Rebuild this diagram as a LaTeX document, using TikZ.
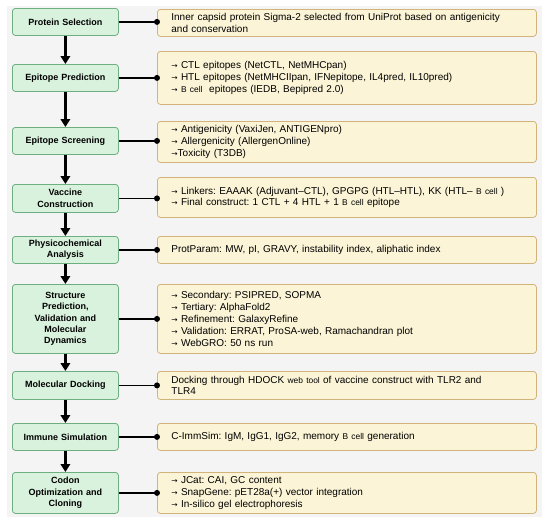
\documentclass[tikz,border=0pt]{standalone}
\usepackage{fontspec}
\setmainfont{Liberation Sans}
\newfontfamily\arrowfont{DejaVu Sans}
\usetikzlibrary{arrows.meta}
\frenchspacing
\definecolor{bggrey}{HTML}{F4F4F4}
\definecolor{stepfill}{HTML}{D9F2DD}
\definecolor{stepdraw}{HTML}{6DAF7E}
\definecolor{infofill}{HTML}{FBF4D6}
\definecolor{infodraw}{HTML}{D2B47A}
\newcommand{\smtxt}[1]{{\fontsize{8.4}{9}\selectfont #1}}
\newcommand{\rarr}{{\arrowfont\fontsize{7.5}{9}\selectfont →}}
\begin{document}
\begin{tikzpicture}[x=1pt,y=-1pt,
  stepbox/.style={draw=stepdraw, fill=stepfill, line width=0.8pt, rounded corners=3pt,
    minimum width=106pt, text width=100pt, align=center, inner xsep=3pt, inner ysep=0pt,
    font=\fontsize{9}{11.4}\selectfont\bfseries\frenchspacing, anchor=north west},
  infobox/.style={draw=infodraw, fill=infofill, line width=0.8pt, rounded corners=3pt,
    text width=351pt, inner xsep=14pt, inner ysep=0pt, align=left,
    font=\fontsize{10}{11.8}\selectfont\frenchspacing, anchor=north west},
  flow/.style={line width=2.2pt, -{Triangle[width=9.5pt,length=8pt]}},
  link/.style={line width=1.8pt}
]
\useasboundingbox (0,0) rectangle (550,523);
\fill[bggrey] (7,6) rectangle (542,517);

% left steps
\node[stepbox, minimum height=27pt] (L1) at (12,8) {Protein Selection};
\node[stepbox, minimum height=27pt] (L2) at (12,64) {Epitope Prediction};
\node[stepbox, minimum height=27pt] (L3) at (12,127) {Epitope Screening};
\node[stepbox, minimum height=28pt] (L4) at (12,184) {Vaccine\\Construction};
\node[stepbox, minimum height=27pt] (L5) at (12,236) {Physicochemical\\Analysis};
\node[stepbox, minimum height=69pt] (L6) at (12,284) {Structure\\Prediction,\\Validation and\\Molecular\\Dynamics};
\node[stepbox, minimum height=28pt] (L7) at (12,371) {Molecular Docking};
\node[stepbox, minimum height=27pt] (L8) at (12,423) {Immune Simulation};
\node[stepbox, minimum height=41pt] (L9) at (12,472) {Codon\\Optimization and\\Cloning};

% right info boxes
\node[infobox, minimum height=27pt] (R1) at (157,9) {Inner capsid protein Sigma-2 selected from UniProt based on antigenicity\\and conservation};
\node[infobox, minimum height=53pt] (R2) at (157,51) {\rarr{} CTL epitopes (NetCTL, NetMHCpan)\\\rarr{} HTL epitopes (NetMHCIIpan, IFNepitope, IL4pred, IL10pred)\\\rarr{} \smtxt{B cell}\ \ epitopes (IEDB, Bepipred 2.0)};
\node[infobox, minimum height=41pt] (R3) at (157,121) {\rarr{} Antigenicity (VaxiJen, ANTIGENpro)\\\rarr{} Allergenicity (AllergenOnline)\\\rarr{}Toxicity (T3DB)};
\node[infobox, minimum height=40pt] (R4) at (157,177) {\rarr{} Linkers: EAAAK (Adjuvant–CTL), GPGPG (HTL–HTL), KK (HTL– \smtxt{B cell} )\\\rarr{} Final construct: 1 CTL + 4 HTL + 1 \smtxt{B cell}\ epitope};
\node[infobox, minimum height=27pt] (R5) at (157,236) {ProtParam: MW, pI, GRAVY, instability index, aliphatic index};
\node[infobox, minimum height=69pt] (R6) at (157,284) {\rarr{} Secondary: PSIPRED, SOPMA\\\rarr{} Tertiary: AlphaFold2\\\rarr{} Refinement: GalaxyRefine\\\rarr{} Validation: ERRAT, ProSA-web, Ramachandran plot\\\rarr{} WebGRO: 50 ns run};
\node[infobox, minimum height=28pt] (R7) at (157,371) {Docking through HDOCK \smtxt{web tool} of vaccine construct with TLR2 and\\TLR4};
\node[infobox, minimum height=27pt] (R8) at (157,423) {C-ImmSim: IgM, IgG1, IgG2, memory \smtxt{B cell} generation};
\node[infobox, minimum height=41pt] (R9) at (157,472) {\rarr{} JCat: CAI, GC content\\\rarr{} SnapGene: pET28a(+) vector integration\\\rarr{} In-silico gel electrophoresis};

% flow arrows
\foreach \a/\b in {L1/L2,L2/L3,L3/L4,L4/L5,L5/L6,L6/L7,L7/L8,L8/L9}
  \draw[flow] (\a.south) -- (\b.north);

% links with dots
\foreach \i in {1,...,9}{
  \draw[link] (L\i.east) -- (L\i.east -| R\i.west);
  \fill (L\i.east -| R\i.west) circle (3pt);
}
\end{tikzpicture}
\end{document}
